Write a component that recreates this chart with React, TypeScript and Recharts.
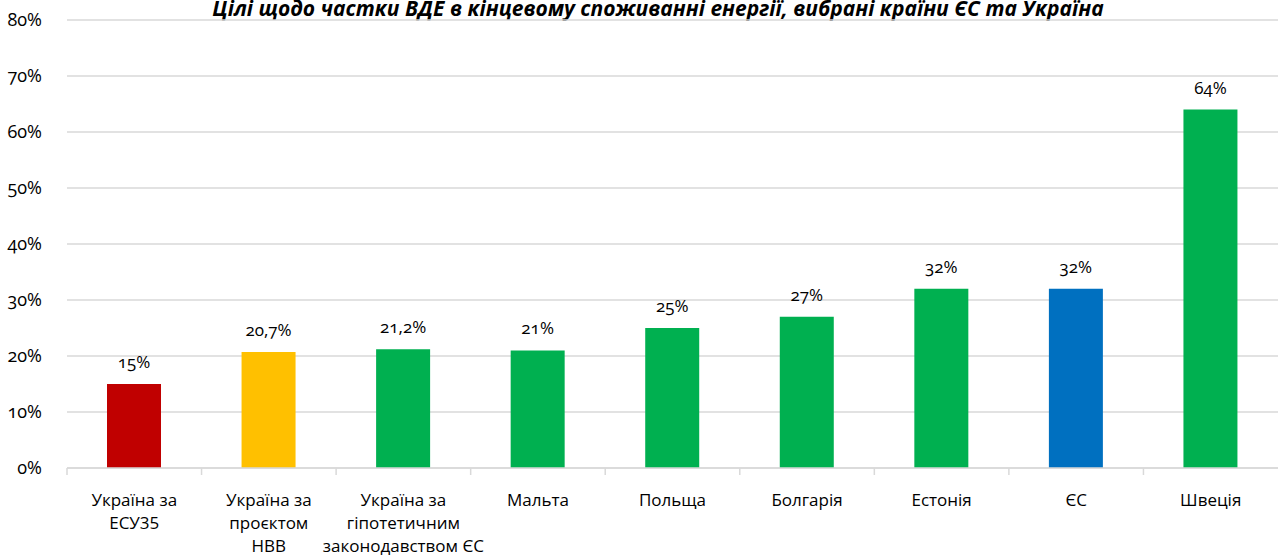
import React from 'react';
import { BarChart, Bar, XAxis, YAxis, CartesianGrid, Cell, LabelList } from 'recharts';

const categories = [
  'Україна за\nЕСУ35',
  'Україна за\nпроєктом\nНВВ',
  'Україна за\nгіпотетичним\nзаконодавством ЄС',
  'Мальта',
  'Польща',
  'Болгарія',
  'Естонія',
  'ЄС',
  'Швеція',
];
const values = [15, 20.7, 21.2, 21, 25, 27, 32, 32, 64];
const valueLabels = ['15%', '20,7%', '21,2%', '21%', '25%', '27%', '32%', '32%', '64%'];
const barColors = ['#C00000', '#FFC000', '#00B050', '#00B050', '#00B050', '#00B050', '#00B050', '#0070C0', '#00B050'];
const yTicks = [0, 10, 20, 30, 40, 50, 60, 70, 80];
const title = 'Цілі щодо частки ВДЕ в кінцевому споживанні енергії, вибрані країни ЄС та Україна';

const data = categories.map((c, i) => ({ name: c, value: values[i], label: valueLabels[i], color: barColors[i] }));

const FONT = '"Open Sans", "Noto Sans", sans-serif';
const BAND = 1211 / 9;

const XTick = (props: any) => {
  const { x, y, payload } = props;
  const lines = String(payload.value).split('\n');
  return (
    <g>
      <line x1={x - BAND / 2} x2={x - BAND / 2} y1={y - 8} y2={y - 1} stroke="#D9D9D9" strokeWidth={1.5} />
      <text x={x} y={y} textAnchor="middle" fontFamily={FONT} fontSize={17} fill="#000">
        {lines.map((l, i) => (
          <tspan key={i} x={x} dy={i === 0 ? 30 : 23}>{l}</tspan>
        ))}
      </text>
    </g>
  );
};

export default function App() {
  return (
    <div style={{ position: 'absolute', left: 0, top: 0, width: 1278, height: 556, background: '#fff', overflow: 'hidden' }}>
      <div
        style={{
          position: 'absolute',
          left: 0,
          width: 1316,
          top: 0,
          textAlign: 'center',
          fontFamily: FONT,
          fontWeight: 700,
          fontStyle: 'italic',
          fontSize: 21,
          lineHeight: '16px',
          color: '#000',
          whiteSpace: 'nowrap',
        }}
      >
        {title}
      </div>
      <BarChart width={1278} height={556} data={data} margin={{ top: 20, right: 0, left: 0, bottom: 0 }} barCategoryGap={0}>
        <CartesianGrid vertical={false} stroke="#D9D9D9" strokeWidth={1.5} />
        <XAxis
          dataKey="name"
          interval={0}
          axisLine={{ stroke: '#D9D9D9', strokeWidth: 1.5 }}
          tickLine={false}
          tick={<XTick />}
          height={88}
        />
        <YAxis
          domain={[0, 80]}
          ticks={yTicks}
          width={67}
          axisLine={false}
          tickLine={false}
          tickMargin={19}
          tickFormatter={(v: number) => `${v}%`}
          tick={{ fontFamily: FONT, fontSize: 18, fill: '#000', style: { fontFeatureSettings: '"onum"' } }}
        />
        <Bar dataKey="value" barSize={54} isAnimationActive={false}>
          {data.map((d, i) => (
            <Cell key={i} fill={d.color} />
          ))}
          <LabelList
            dataKey="label"
            position="top"
            offset={16}
            style={{ fontFamily: FONT, fontSize: 17, fill: '#000', fontFeatureSettings: '"onum"' }}
          />
        </Bar>
      </BarChart>
    </div>
  );
}
